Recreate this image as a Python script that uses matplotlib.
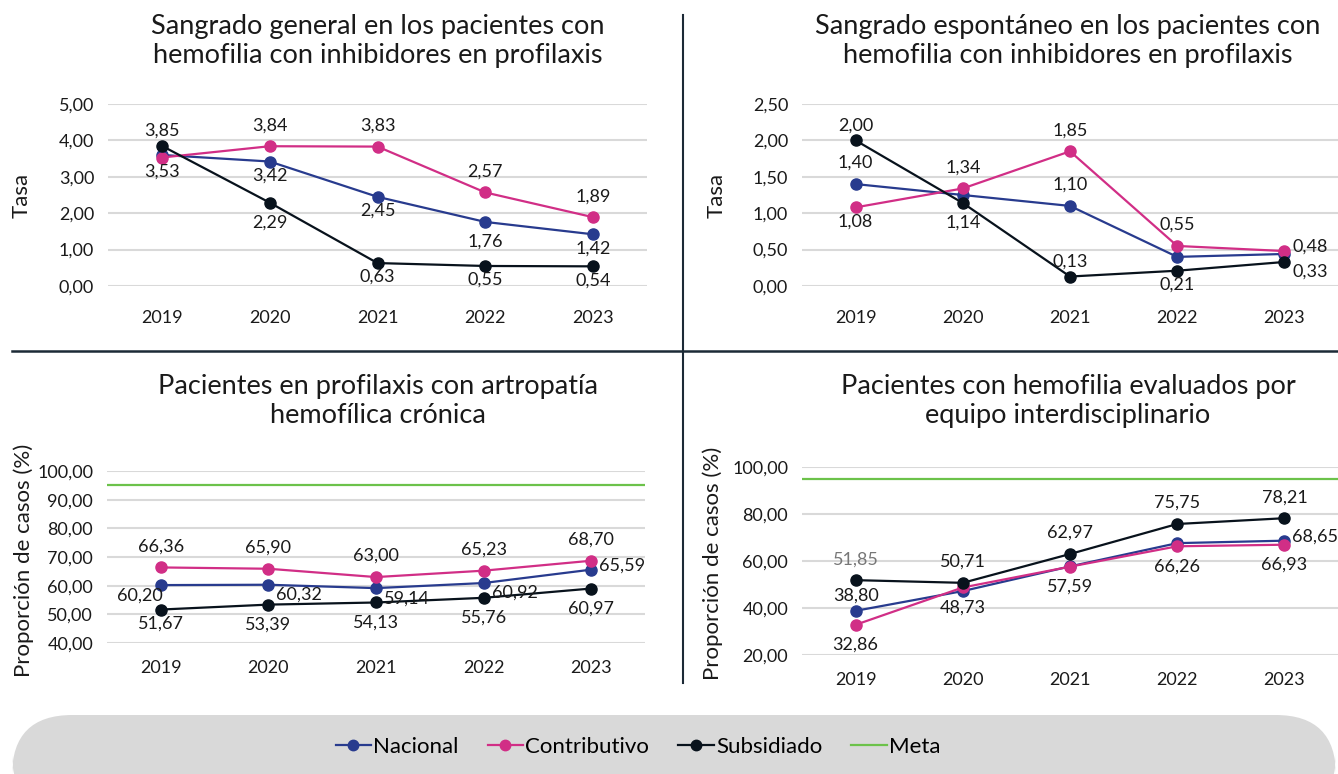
import matplotlib
matplotlib.use("Agg")
import matplotlib.pyplot as plt
from matplotlib.patches import FancyBboxPatch
from matplotlib.lines import Line2D

plt.rcParams['font.family'] = ['Lato', 'DejaVu Sans']

years = ["2019", "2020", "2021", "2022", "2023"]

# Chart 1: Sangrado general
c1_nacional = [3.60, 3.42, 2.45, 1.76, 1.42]
c1_contributivo = [3.53, 3.84, 3.83, 2.57, 1.89]
c1_subsidiado = [3.85, 2.29, 0.63, 0.55, 0.54]
c1_yticks = [0, 1, 2, 3, 4, 5]

# Chart 2: Sangrado espontáneo
c2_nacional = [1.40, 1.25, 1.10, 0.40, 0.44]
c2_contributivo = [1.08, 1.34, 1.85, 0.55, 0.48]
c2_subsidiado = [2.00, 1.14, 0.13, 0.21, 0.33]
c2_yticks = [0, 0.5, 1.0, 1.5, 2.0, 2.5]

# Chart 3: Artropatía hemofílica crónica
c3_nacional = [60.20, 60.32, 59.14, 60.92, 65.59]
c3_contributivo = [66.36, 65.90, 63.00, 65.23, 68.70]
c3_subsidiado = [51.67, 53.39, 54.13, 55.76, 59.00]
c3_subsidiado_labels = ["51,67", "53,39", "54,13", "55,76", "60,97"]
c3_meta = 95
c3_yticks = [40, 50, 60, 70, 80, 90, 100]

# Chart 4: Evaluados por equipo interdisciplinario
c4_nacional = [38.80, 47.2, 57.7, 67.6, 68.65]
c4_contributivo = [32.86, 48.73, 57.59, 66.26, 66.93]
c4_subsidiado = [51.85, 50.71, 62.97, 75.75, 78.21]
c4_meta = 95
c4_yticks = [20, 40, 60, 80, 100]

C_NAC = "#283b8e"
C_CON = "#d12e86"
C_SUB = "#08121c"
C_META = "#6cc24a"
C_GRID = "#d9d9d9"
C_TXT = "#1a1a1a"

FS_TICK = 13
FS_LAB = 13

fig = plt.figure(figsize=(13.38, 7.74), dpi=100)
W, H = 1338, 774
PX = 0.72  # points per pixel at dpi 100


def make_ax(x0, x1, ytop, ybot):
    return fig.add_axes([x0 / W, 1 - ybot / H, (x1 - x0) / W, (ybot - ytop) / H])


def fmt(v, dec=2):
    return f"{v:.{dec}f}".replace(".", ",")


def setup(ax, yticks, ylim, ylabel, xpad, ylab_x, ylab_y):
    ax.set_xlim(-0.5, 4.5)
    ax.set_ylim(*ylim)
    ax.set_yticks(yticks)
    ax.set_yticklabels([fmt(t) for t in yticks], fontsize=FS_TICK, color=C_TXT)
    ax.set_xticks(range(len(years)))
    ax.set_xticklabels(years, fontsize=FS_TICK, color=C_TXT)
    ax.tick_params(axis='both', length=0)
    ax.tick_params(axis='x', pad=xpad)
    ax.tick_params(axis='y', pad=10)
    for s in ax.spines.values():
        s.set_visible(False)
    ax.grid(axis='y', color=C_GRID, linewidth=1.5)
    ax.set_axisbelow(True)
    ax.set_ylabel(ylabel, fontsize=16, color=C_TXT, va='center')
    ax.yaxis.set_label_coords(ylab_x / W, 1 - ylab_y / H, transform=fig.transFigure)


def series(ax, vals, color, zorder):
    ax.plot(range(len(vals)), vals, color=color, lw=1.6, marker='o', ms=8,
            zorder=zorder, clip_on=False)


# offsets in pixels: (dx, dy, ha)
OFFS = {'a': (0, 21, 'center'), 'as': (0, 15, 'center'),
        'b': (0, -20, 'center'), 'bs': (0, -14, 'center'),
        'r': (8, 4, 'left'), 'br': (8, -10, 'left'),
        'bl': (2, -11, 'right')}


def label(ax, i, v, pos, text=None, color=C_TXT):
    if pos is None:
        return
    if text is None:
        text = fmt(v)
    dx, dy, ha = OFFS[pos]
    ax.annotate(text, (i, v), xytext=(dx * PX, dy * PX), textcoords='offset points',
                ha=ha, va='center', fontsize=FS_LAB, color=color, zorder=10)


# ---------- Chart 1 ----------
ax1 = make_ax(108, 647, 104, 286)
setup(ax1, c1_yticks, (0, 5), "Tasa", 17, 22, 195)
series(ax1, c1_nacional, C_NAC, 3)
series(ax1, c1_contributivo, C_CON, 4)
series(ax1, c1_subsidiado, C_SUB, 5)
for i, p in enumerate([None, 'bs', 'bs', 'b', 'bs']):
    label(ax1, i, c1_nacional[i], p)
for i, p in enumerate(['bs', 'a', 'a', 'a', 'a']):
    label(ax1, i, c1_contributivo[i], p)
for i, p in enumerate(['as', 'b', 'bs', 'bs', 'bs']):
    label(ax1, i, c1_subsidiado[i], p)

# ---------- Chart 2 ----------
ax2 = make_ax(802, 1338, 104, 286)
setup(ax2, c2_yticks, (0, 2.5), "Tasa", 17, 717, 195)
series(ax2, c2_nacional, C_NAC, 3)
series(ax2, c2_contributivo, C_CON, 4)
series(ax2, c2_subsidiado, C_SUB, 5)
for i, p in enumerate(['a', None, 'a', None, None]):
    label(ax2, i, c2_nacional[i], p)
for i, p in enumerate(['bs', 'a', 'a', 'a', 'r']):
    label(ax2, i, c2_contributivo[i], p)
for i, p in enumerate(['as', 'b', 'as', 'bs', 'br']):
    label(ax2, i, c2_subsidiado[i], p)

# ---------- Chart 3 ----------
ax3 = make_ax(107, 645, 471, 643)
setup(ax3, c3_yticks, (40, 100), "Proporción de casos (%)", 12, 24, 560)
ax3.axhline(c3_meta, color=C_META, lw=1.6, zorder=2)
series(ax3, c3_nacional, C_NAC, 3)
series(ax3, c3_contributivo, C_CON, 4)
series(ax3, c3_subsidiado, C_SUB, 5)
for i, p in enumerate(['bl', 'br', 'br', 'br', 'r']):
    label(ax3, i, c3_nacional[i], p)
for i, p in enumerate(['a', 'a', 'a', 'a', 'a']):
    label(ax3, i, c3_contributivo[i], p)
for i, p in enumerate(['bs', 'b', 'b', 'b', 'b']):
    label(ax3, i, c3_subsidiado[i], p, text=c3_subsidiado_labels[i])

# ---------- Chart 4 ----------
ax4 = make_ax(802, 1338, 467, 655)
setup(ax4, c4_yticks, (20, 100), "Proporción de casos (%)", 12, 713, 563)
ax4.axhline(c4_meta, color=C_META, lw=1.6, zorder=2)
series(ax4, c4_nacional, C_NAC, 3)
series(ax4, c4_contributivo, C_CON, 4)
series(ax4, c4_subsidiado, C_SUB, 5)
for i, p in enumerate(['as', None, None, None, 'r']):
    label(ax4, i, c4_nacional[i], p)
for i, p in enumerate(['b', 'b', 'b', 'b', 'b']):
    label(ax4, i, c4_contributivo[i], p)
for i, p in enumerate(['a', 'a', 'a', 'a', 'a']):
    label(ax4, i, c4_subsidiado[i], p, color="#777777" if i == 0 else C_TXT)

# ---------- Titles ----------
titles = [
    ("Sangrado general en los pacientes con\nhemofilia con inhibidores en profilaxis", 378, 41),
    ("Sangrado espontáneo en los pacientes con\nhemofilia con inhibidores en profilaxis", 1068, 41),
    ("Pacientes en profilaxis con artropatía\nhemofílica crónica", 378, 401),
    ("Pacientes con hemofilia evaluados por\nequipo interdisciplinario", 1068, 401),
]
for t, x, y in titles:
    fig.text(x / W, 1 - y / H, t, ha='center', va='center', fontsize=19.5,
             color=C_TXT, linespacing=1.2)

# ---------- Dividers ----------
DIV = "#1c2a36"
fig.add_artist(Line2D([683 / W, 683 / W], [1 - 15 / H, 1 - 683 / H], color=DIV, lw=1.5))
fig.add_artist(Line2D([12 / W, 1], [1 - 350.5 / H, 1 - 350.5 / H], color=DIV, lw=1.8))

# ---------- Legend box ----------
box = FancyBboxPatch((12 / W, -40 / H), (1336 - 12) / W, (774 - 715 + 40) / H,
                     boxstyle="round,pad=0,rounding_size=0.045",
                     transform=fig.transFigure, facecolor="#d9d9d9",
                     edgecolor="none", mutation_aspect=W / H)
fig.add_artist(box)
handles = [
    Line2D([], [], color=C_NAC, marker='o', ms=7.5, lw=1.6, label="Nacional"),
    Line2D([], [], color=C_CON, marker='o', ms=7.5, lw=1.6, label="Contributivo"),
    Line2D([], [], color=C_SUB, marker='o', ms=7.5, lw=1.6, label="Subsidiado"),
    Line2D([], [], color=C_META, lw=1.6, label="Meta"),
]
fig.legend(handles=handles, loc='center', bbox_to_anchor=(638 / W, 1 - 747 / H),
           ncol=4, frameon=False, fontsize=16, handlelength=1.6,
           handletextpad=0.1, columnspacing=1.3)

fig.savefig("out.png", dpi=100)
